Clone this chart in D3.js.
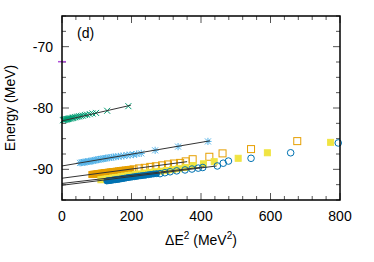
<!DOCTYPE html>
<html><head><meta charset="utf-8">
<script src="https://cdn.jsdelivr.net/npm/d3@7"></script>
<style>
html,body{margin:0;padding:0;background:#fff;}
svg{display:block;font-family:"Liberation Sans",Arial,sans-serif;}
</style></head>
<body><svg id="c" width="374" height="262"></svg>
<script>
// ---- data (x = ΔE^2 in MeV^2, y = Energy in MeV) ----
const xMajorTicks = [0, 200, 400, 600, 800];
const yMajorTicks = [-90, -80, -70];
const panelLabel = "(d)";

const purplePoint = [[0, -72.45]];

const greenCross = [[3,-82.0],[5,-81.95],[7,-81.9],[9,-81.9],[11,-81.85],[13,-81.85],[15,-81.8],[17,-81.8],[19,-81.75],[22,-81.7],[25,-81.7],[28,-81.65],[31,-81.6],[34,-81.55],[38,-81.5],[42,-81.45],[46,-81.4],[50,-81.35],[55,-81.3],[60,-81.25],[66,-81.15],[72,-81.1],[80,-81.0],[88,-80.9],[98,-80.8],[130,-80.45],[191,-79.7]];

const blueStar = [[52,-88.95],[56,-88.9],[60,-88.85],[64,-88.85],[68,-88.8],[72,-88.75],[76,-88.7],[80,-88.7],[84,-88.65],[88,-88.6],[92,-88.55],[96,-88.5],[100,-88.45],[105,-88.4],[110,-88.35],[115,-88.3],[120,-88.25],[125,-88.2],[130,-88.15],[136,-88.1],[142,-88.05],[148,-88.0],[155,-87.95],[162,-87.9],[170,-87.85],[178,-87.8],[187,-87.7],[196,-87.65],[206,-87.6],[215,-87.5],[228,-87.4],[268,-86.9],[334,-86.3],[420,-85.45]];

const orangeFilled = [[86,-90.85],[90,-90.8],[94,-90.8],[98,-90.75],[102,-90.72],[106,-90.7],[110,-90.65],[114,-90.62],[118,-90.6],[122,-90.55],[126,-90.52],[130,-90.5],[135,-90.45],[140,-90.42],[145,-90.38],[150,-90.35],[156,-90.3],[162,-90.25],[168,-90.2],[175,-90.15],[182,-90.1],[190,-90.05],[198,-90.0]];
const orangeOpen = [[206,-90.0],[222,-89.85],[238,-89.75],[254,-89.6],[270,-89.5],[288,-89.35],[305,-89.2],[322,-89.05],[340,-88.95],[356,-88.7],[376,-88.35],[424,-87.95],[462,-87.4],[544,-86.7],[677,-85.4]];

const yellowFilled = [[112,-91.7],[118,-91.65],[124,-91.6],[130,-91.55],[138,-91.5],[146,-91.4],[154,-91.35],[162,-91.3],[170,-91.2],[180,-91.1],[190,-91.0],[200,-90.95],[212,-90.85],[224,-90.75],[238,-90.6],[252,-90.5],[268,-90.4],[284,-90.3],[300,-90.2],[318,-90.05],[336,-89.9],[356,-89.7],[378,-89.4],[407,-89.1],[438,-88.75],[507,-88.2],[591,-87.3],[773,-85.6]];

const darkFilled = [[129,-91.9],[133,-91.85],[137,-91.82],[141,-91.8],[145,-91.75],[149,-91.72],[153,-91.7],[157,-91.65],[161,-91.62],[165,-91.6],[170,-91.55],[175,-91.5],[180,-91.45],[185,-91.4],[190,-91.35],[196,-91.3],[202,-91.25],[208,-91.2],[214,-91.15],[220,-91.1],[227,-91.05],[234,-91.0],[241,-90.95],[248,-90.88],[256,-90.82],[264,-90.75],[272,-90.7]];
const darkOpen = [[282,-90.7],[296,-90.55],[311,-90.4],[330,-90.25],[354,-90.1],[374,-89.95],[392,-89.8],[405,-89.7],[447,-89.45],[464,-89.0],[479,-88.65],[544,-88.2],[658,-87.3],[795,-85.7]];

// fit lines: [x0, y0, x1, y1]
const fitLines = [
  [0,-82.1, 198,-79.55],
  [0,-89.45, 426,-85.35],
  [0,-91.45, 360,-88.75],
  [0,-92.3, 410,-89.6],
  [0,-92.6, 445,-89.45]
];

// ---- layout ----
const svg = d3.select("#c");
const L = 62, T = 16, R = 340, B = 200;
const x = d3.scaleLinear().domain([0, 800]).range([L, R]);
const y = d3.scaleLinear().domain([-95, -65]).range([B, T]);

const COL = {green:"#009e73", blue:"#56b4e9", orange:"#e69f00", yellow:"#f0e442", dark:"#0072b2", purple:"#b050d8"};

// ticks (inward, mirrored)
const xMinor = d3.range(0, 801, 40);
const yMinor = d3.range(-95, -64.9, 2.5);
const tg = svg.append("g").attr("stroke", "#555").attr("stroke-width", 1);
xMinor.forEach(v => {
  const len = xMajorTicks.includes(v) ? 7 : 4;
  tg.append("line").attr("x1", x(v)).attr("x2", x(v)).attr("y1", B).attr("y2", B - len);
  tg.append("line").attr("x1", x(v)).attr("x2", x(v)).attr("y1", T).attr("y2", T + len);
});
yMinor.forEach(v => {
  const len = yMajorTicks.some(m => Math.abs(m - v) < 1e-6) ? 7 : 4;
  tg.append("line").attr("y1", y(v)).attr("y2", y(v)).attr("x1", L).attr("x2", L + len);
  tg.append("line").attr("y1", y(v)).attr("y2", y(v)).attr("x1", R).attr("x2", R - len);
});

// tick labels
svg.append("g").selectAll("text").data(xMajorTicks).join("text")
  .attr("x", d => x(d)).attr("y", 221).attr("text-anchor", "middle")
  .attr("font-size", 14).text(d => d);
svg.append("g").selectAll("text").data(yMajorTicks).join("text")
  .attr("x", 53).attr("y", d => y(d) + 5).attr("text-anchor", "end")
  .attr("font-size", 14).text(d => d);

// axis titles
const xt = svg.append("text").attr("x", 201).attr("y", 245).attr("text-anchor", "middle").attr("font-size", 14);
xt.append("tspan").text("ΔE");
xt.append("tspan").attr("dy", -6).attr("font-size", 10).text("2");
xt.append("tspan").attr("dy", 6).text(" (MeV");
xt.append("tspan").attr("dy", -6).attr("font-size", 10).text("2");
xt.append("tspan").attr("dy", 6).text(")");
svg.append("text").attr("transform", "translate(15,108) rotate(-90)")
  .attr("text-anchor", "middle").attr("font-size", 14).text("Energy (MeV)");

svg.append("text").attr("x", 77).attr("y", 38).attr("font-size", 14).text(panelLabel);

// markers
const g = svg.append("g");
function cross(sel, data, col, s) {
  g.append("g").attr("stroke", col).attr("stroke-width", 1).attr("fill", "none")
    .selectAll("path").data(data).join("path")
    .attr("d", d => { const cx = x(d[0]), cy = y(d[1]);
      return `M${cx-s},${cy-s}L${cx+s},${cy+s}M${cx-s},${cy+s}L${cx+s},${cy-s}`; });
}
function star(data, col, s) {
  g.append("g").attr("stroke", col).attr("stroke-width", 1).attr("fill", "none")
    .selectAll("path").data(data).join("path")
    .attr("d", d => { const cx = x(d[0]), cy = y(d[1]);
      return `M${cx-s},${cy-s}L${cx+s},${cy+s}M${cx-s},${cy+s}L${cx+s},${cy-s}M${cx-s*1.2},${cy}L${cx+s*1.2},${cy}M${cx},${cy-s*1.2}L${cx},${cy+s*1.2}`; });
}
function square(data, col, s, filled) {
  g.append("g").selectAll("rect").data(data).join("rect")
    .attr("x", d => x(d[0]) - s / 2).attr("y", d => y(d[1]) - s / 2)
    .attr("width", s).attr("height", s)
    .attr("fill", filled ? col : "none").attr("stroke", col).attr("stroke-width", 1);
}
function circle(data, col, r, filled) {
  g.append("g").selectAll("circle").data(data).join("circle")
    .attr("cx", d => x(d[0])).attr("cy", d => y(d[1])).attr("r", r)
    .attr("fill", filled ? col : "none").attr("stroke", col).attr("stroke-width", 1);
}

cross(null, greenCross, COL.green, 3);
star(blueStar, COL.blue, 3);
square(orangeFilled, COL.orange, 6, true);
square(orangeOpen, COL.orange, 7, false);
square(yellowFilled, COL.yellow, 6, true);
circle(darkFilled, COL.dark, 3, true);
circle(darkOpen, COL.dark, 3.3, false);

// purple point (horizontal dash marker at x=0)
svg.append("g").selectAll("line").data(purplePoint).join("line")
  .attr("x1", d => x(d[0]) - 4).attr("x2", d => x(d[0]) + 4)
  .attr("y1", d => y(d[1])).attr("y2", d => y(d[1]))
  .attr("stroke", COL.purple).attr("stroke-width", 1.5);

// fit lines
svg.append("g").selectAll("line").data(fitLines).join("line")
  .attr("x1", d => x(d[0])).attr("y1", d => y(d[1]))
  .attr("x2", d => x(d[2])).attr("y2", d => y(d[3]))
  .attr("stroke", "#333").attr("stroke-width", 1);

// frame
svg.append("rect").attr("x", L).attr("y", T).attr("width", R - L).attr("height", B - T)
  .attr("fill", "none").attr("stroke", "#000").attr("stroke-width", 1.5);
</script></body></html>
